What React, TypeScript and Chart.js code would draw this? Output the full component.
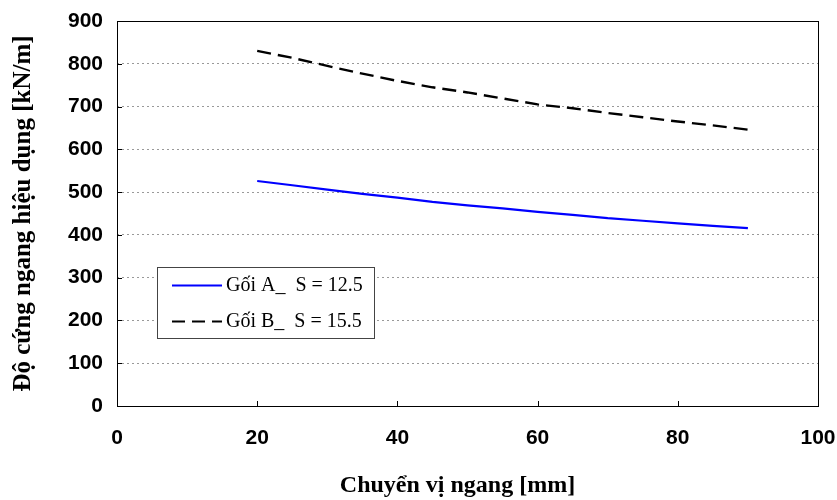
import React, { useEffect, useRef } from "react";
import { Chart, registerables } from "chart.js";

Chart.register(...registerables);

const displacementA = [20, 25, 30, 35, 40, 45, 50, 55, 60, 65, 70, 75, 80, 85, 90];
const stiffnessA = [526, 516, 506, 496, 487, 477, 469, 462, 454, 447, 439, 433, 427, 421, 416];
const displacementB = [20, 25, 30, 35, 40, 45, 50, 55, 60, 65, 70, 75, 80, 85, 90];
const stiffnessB = [830, 814, 795, 777, 760, 745, 733, 719, 705, 696, 685, 675, 665, 656, 646];
const labelA = "Gối A_  S = 12.5";
const labelB = "Gối B_  S = 15.5";
const xTitle = "Chuyển vị ngang [mm]";
const yTitle = "Độ cứng ngang hiệu dụng [kN/m]";
const xTicks = [0, 20, 40, 60, 80, 100];
const yTicks = [0, 100, 200, 300, 400, 500, 600, 700, 800, 900];

const framePlugin = {
  id: "frameAndLegend",
  afterDraw(chart: any) {
    const { ctx, chartArea: a, scales } = chart;
    ctx.save();
    ctx.setLineDash([]);
    ctx.strokeStyle = "#000";
    ctx.lineWidth = 1;
    ctx.strokeRect(Math.round(a.left) + 0.5, Math.round(a.top) + 0.5, Math.round(a.right - a.left), Math.round(a.bottom - a.top));
    // inward ticks
    ctx.beginPath();
    for (const v of xTicks) {
      const x = Math.round(scales.x.getPixelForValue(v)) + 0.5;
      ctx.moveTo(x, a.bottom);
      ctx.lineTo(x, a.bottom - 5);
    }
    for (const v of yTicks) {
      const y = Math.round(scales.y.getPixelForValue(v)) + 0.5;
      ctx.moveTo(a.left, y);
      ctx.lineTo(a.left + 5, y);
    }
    ctx.stroke();

    // x axis title
    ctx.font = "bold 24px 'Liberation Serif', 'Times New Roman', serif";
    ctx.fillStyle = "#000";
    ctx.textAlign = "center";
    ctx.textBaseline = "middle";
    ctx.fillText(xTitle, (a.left + a.right) / 2 - 10, 486);

    // legend box
    const bx = 157, by = 267, bw = 217, bh = 71;
    ctx.fillStyle = "#fff";
    ctx.fillRect(bx, by, bw, bh);
    ctx.strokeStyle = "#444";
    ctx.strokeRect(bx + 0.5, by + 0.5, bw, bh);
    ctx.font = "20px 'Liberation Serif', 'Times New Roman', serif";
    ctx.textAlign = "left";
    ctx.textBaseline = "middle";
    ctx.fillStyle = "#000";
    const rows = [
      { y: 285, color: "#0000ff", dash: [] as number[], label: labelA },
      { y: 321, color: "#000000", dash: [13, 7], label: labelB },
    ];
    for (const r of rows) {
      ctx.beginPath();
      ctx.setLineDash(r.dash);
      ctx.strokeStyle = r.color;
      ctx.lineWidth = 2;
      ctx.moveTo(172, r.y + 0.5);
      ctx.lineTo(222, r.y + 0.5);
      ctx.stroke();
      ctx.setLineDash([]);
      ctx.fillText(r.label, 226, r.y + 1);
    }
    ctx.restore();
  },
};

export default function App() {
  const ref = useRef<HTMLCanvasElement | null>(null);
  useEffect(() => {
    if (!ref.current) return;
    const chart = new Chart(ref.current, {
      type: "line",
      data: {
        datasets: [
          {
            label: labelA,
            data: displacementA.map((x, i) => ({ x, y: stiffnessA[i] })),
            borderColor: "#0000ff",
            borderWidth: 2.2,
            pointRadius: 0,
            tension: 0,
          },
          {
            label: labelB,
            data: displacementB.map((x, i) => ({ x, y: stiffnessB[i] })),
            borderColor: "#000000",
            borderWidth: 2.4,
            borderDash: [14, 7],
            pointRadius: 0,
            tension: 0,
          },
        ],
      },
      options: {
        animation: false,
        responsive: false,
        maintainAspectRatio: false,
        layout: { padding: { top: 21, right: 19, left: 0, bottom: 0 } },
        plugins: { legend: { display: false }, tooltip: { enabled: false } },
        scales: {
          x: {
            type: "linear",
            min: 0,
            max: 100,
            afterBuildTicks: (s: any) => {
              s.ticks = xTicks.map((v) => ({ value: v }));
            },
            afterFit: (s: any) => {
              s.height = 94;
              s.paddingLeft = 0;
              s.paddingRight = 0;
            },
            grid: { display: false, drawTicks: false },
            border: { display: false },
            ticks: {
              padding: 20,
              color: "#000",
              maxRotation: 0,
              font: { family: "'Liberation Sans', Arial, sans-serif", size: 21, weight: "bold" },
            },
            title: { display: false, text: xTitle },
          },
          y: {
            type: "linear",
            min: 0,
            max: 900,
            afterBuildTicks: (s: any) => {
              s.ticks = yTicks.map((v) => ({ value: v }));
            },
            afterFit: (s: any) => {
              s.width = 117;
              s.paddingTop = 0;
              s.paddingBottom = 0;
            },
            grid: {
              color: (c: any) => (c.tick && (c.tick.value === 0 || c.tick.value === 900) ? "rgba(0,0,0,0)" : "#999"),
              lineWidth: 1,
              drawTicks: false,
            },
            border: { display: false, dash: [2, 3] },
            ticks: {
              padding: 14,
              color: "#000",
              font: { family: "'Liberation Sans', Arial, sans-serif", size: 21, weight: "bold" },
            },
            title: {
              display: true,
              text: yTitle,
              color: "#000",
              padding: { top: 9, bottom: 0 },
              font: { family: "'Liberation Serif', 'Times New Roman', serif", size: 25, weight: "bold" },
            },
          },
        },
      },
      plugins: [framePlugin],
    } as any);
    return () => chart.destroy();
  }, []);
  return (
    <div style={{ position: "absolute", left: 0, top: 0, width: 837, height: 500, background: "#fff" }}>
      <canvas ref={ref} width={837} height={500} style={{ width: 837, height: 500 }} />
    </div>
  );
}
